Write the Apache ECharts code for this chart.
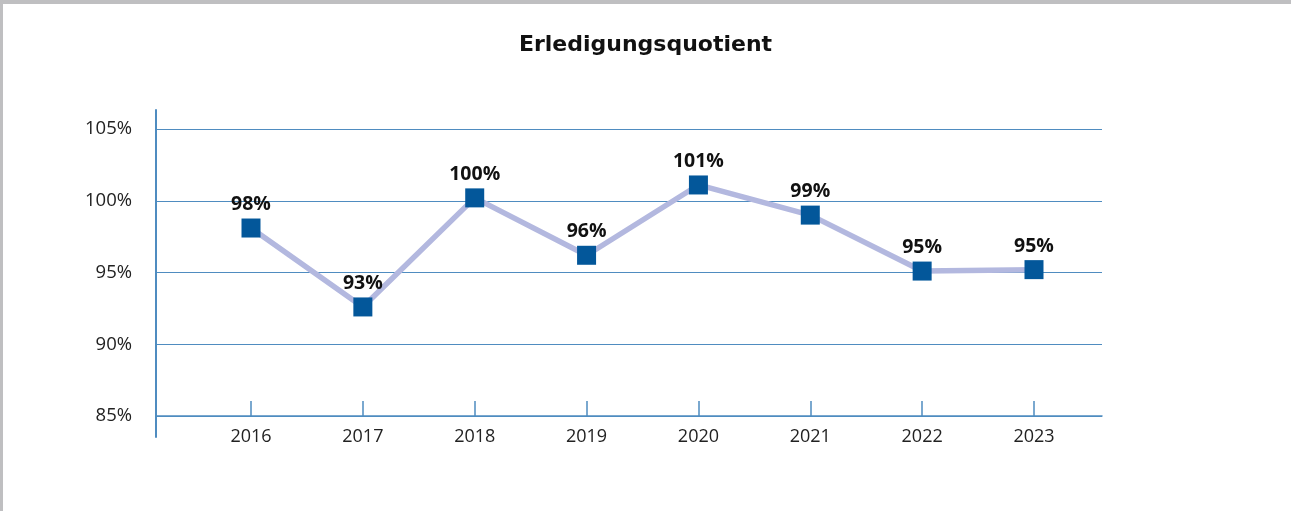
<!DOCTYPE html>
<html>
<head>
<meta charset="utf-8">
<script src="https://cdn.jsdelivr.net/npm/echarts@6/dist/echarts.min.js"></script>
<style>
  html, body { margin: 0; padding: 0; background: #fff; }
  #main { width: 1291px; height: 511px; }
</style>
</head>
<body>
<div id="main"></div>
<script>
const years = ['2016', '2017', '2018', '2019', '2020', '2021', '2022', '2023'];
const quotient = [98.1, 92.6, 100.2, 96.2, 101.1, 99.0, 95.1, 95.2];
const yTicks = [85, 90, 95, 100, 105];

const axisBlue = '#4f8cc0';
const font = '"Open Sans", "Noto Sans", sans-serif';

const chart = echarts.init(document.getElementById('main'), null, { renderer: 'canvas' });

const option = {
  backgroundColor: '#fff',
  animation: false,
  title: {
    text: 'Erledigungsquotient',
    left: 'center',
    top: 29,
    textStyle: { fontFamily: '"DejaVu Sans", sans-serif', fontWeight: 'bold', fontSize: 22, color: '#111' }
  },
  graphic: [
    { type: 'rect', shape: { x: 0, y: 0, width: 1291, height: 4 }, style: { fill: '#bfbfc1' } },
    { type: 'rect', shape: { x: 0, y: 0, width: 3, height: 511 }, style: { fill: '#bfbfc1' } }
  ],
  grid: [
    // frame: gridlines, x axis line
    { left: 156, right: 189, top: 129, bottom: 95 },
    // data area, categories evenly spread
    { left: 251, right: 257, top: 129, bottom: 95 },
    // long vertical axis line
    { left: 156, width: 10, top: 110, bottom: 74 }
  ],
  xAxis: [
    { gridIndex: 0, type: 'value', min: 0, max: 1, axisLine: { show: true, lineStyle: { color: axisBlue, width: 1.5 } },
      axisTick: { show: false }, axisLabel: { show: false }, splitLine: { show: false } },
    { gridIndex: 1, type: 'category', data: years, boundaryGap: false,
      axisLine: { show: false },
      axisTick: { show: true, inside: true, length: 15, alignWithLabel: true, lineStyle: { color: axisBlue, width: 1.5 } },
      axisLabel: { margin: 12, fontFamily: font, fontSize: 18, color: '#222' } },
    { gridIndex: 2, type: 'value', show: false }
  ],
  yAxis: [
    { gridIndex: 0, type: 'value', min: yTicks[0], max: yTicks[yTicks.length - 1], interval: 5,
      axisLine: { show: false }, axisTick: { show: false },
      axisLabel: { margin: 24, formatter: '{value}%', fontFamily: font, fontSize: 18.5, color: '#222' },
      splitLine: { show: true, lineStyle: { color: axisBlue, width: 1.2 } } },
    { gridIndex: 1, type: 'value', min: yTicks[0], max: yTicks[yTicks.length - 1], show: false },
    { gridIndex: 2, type: 'value', min: 0, max: 1, axisLine: { show: true, lineStyle: { color: axisBlue, width: 2 } },
      axisTick: { show: false }, axisLabel: { show: false }, splitLine: { show: false } }
  ],
  series: [
    {
      type: 'line',
      xAxisIndex: 1,
      yAxisIndex: 1,
      data: quotient,
      symbol: 'rect',
      symbolSize: 19,
      itemStyle: { color: '#03579a' },
      lineStyle: { color: '#b3b8df', width: 5.5 },
      label: {
        show: true,
        position: 'top',
        distance: 4,
        formatter: p => Math.round(p.value) + '%',
        fontFamily: font,
        fontWeight: 'bold',
        fontSize: 19.5,
        color: '#111'
      }
    }
  ]
};

chart.setOption(option);
</script>
</body>
</html>
